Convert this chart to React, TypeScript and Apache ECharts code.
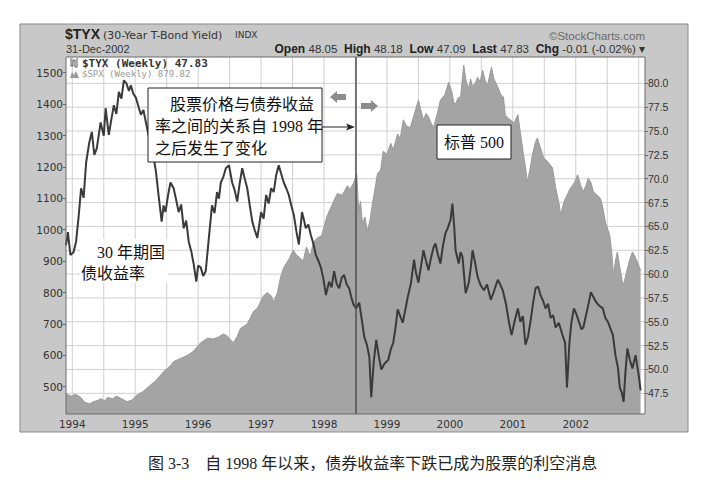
import React, { useEffect, useRef } from "react";
import * as echarts from "echarts";

// ---- axis definitions ----
const X_MIN = 1993.9;
const X_MAX = 2003.1;
const SPX_MIN = 413.1;
const SPX_MAX = 1550;
const TYX_MIN = 45.33;
const TYX_MAX = 82.76;
const YEAR_LABELS = [1994, 1995, 1996, 1997, 1998, 1999, 2000, 2001, 2002];
const GRID_X = [1994, 1994.5, 1995, 1995.5, 1996, 1996.5, 1997, 1997.5, 1998, 1998.5, 1999, 1999.5, 2000, 2000.5, 2001, 2001.5, 2002, 2002.5, 2003];
const SPX_TICKS = [500, 600, 700, 800, 900, 1000, 1100, 1200, 1300, 1400, 1500];
const TYX_TICKS = [47.5, 50, 52.5, 55, 57.5, 60, 62.5, 65, 67.5, 70, 72.5, 75, 77.5, 80];
const SHIFT_DATE = 1998.51;

// ---- S&P 500 weekly (left axis) ----
const SPX_T = [
  1993.9, 1993.98, 1994.05, 1994.13, 1994.2, 1994.28, 1994.33, 1994.4, 1994.45, 1994.52, 1994.56, 1994.64, 1994.7, 1994.76, 1994.82, 1994.87, 1994.95,
  1995.03, 1995.12, 1995.24, 1995.33, 1995.45, 1995.55, 1995.61, 1995.72, 1995.83, 1995.92,
  1996.04, 1996.1, 1996.15, 1996.24, 1996.32, 1996.4, 1996.46, 1996.51, 1996.56, 1996.62, 1996.67, 1996.78, 1996.88, 1996.94,
  1997.04, 1997.1, 1997.16, 1997.2, 1997.26, 1997.31, 1997.36, 1997.44, 1997.51, 1997.56, 1997.62, 1997.67, 1997.72, 1997.78, 1997.83, 1997.9, 1997.96,
  1998.05, 1998.13, 1998.21, 1998.29, 1998.37, 1998.42, 1998.47, 1998.52, 1998.55, 1998.58, 1998.61, 1998.65, 1998.69, 1998.73, 1998.77, 1998.81, 1998.85, 1998.9, 1998.94,
  1999.0, 1999.06, 1999.1, 1999.17, 1999.21, 1999.26, 1999.31, 1999.37, 1999.43, 1999.5, 1999.54, 1999.58, 1999.62, 1999.66, 1999.7, 1999.74, 1999.8, 1999.85, 1999.92, 1999.98,
  2000.03, 2000.06, 2000.09, 2000.13, 2000.17, 2000.22, 2000.26, 2000.3, 2000.33, 2000.36, 2000.41, 2000.44, 2000.48, 2000.52, 2000.56, 2000.6, 2000.66, 2000.7, 2000.76, 2000.81, 2000.85, 2000.88, 2000.92, 2000.96,
  2001.02, 2001.08, 2001.12, 2001.17, 2001.2, 2001.23, 2001.27, 2001.31, 2001.36, 2001.39, 2001.44, 2001.49, 2001.56, 2001.63, 2001.68, 2001.73, 2001.76, 2001.81, 2001.86, 2001.92, 2001.98,
  2002.03, 2002.08, 2002.12, 2002.16, 2002.2, 2002.24, 2002.28, 2002.34, 2002.39, 2002.43, 2002.47, 2002.54, 2002.57, 2002.6, 2002.63, 2002.66, 2002.7, 2002.74, 2002.76, 2002.8, 2002.85, 2002.9, 2002.94, 2002.98, 2003.03,
];
const SPX_V = [
  478, 470, 476, 467, 450, 446, 452, 456, 462, 455, 466, 462, 470, 464, 458, 452, 458,
  474, 484, 505, 520, 548, 565, 580, 590, 600, 612,
  640, 648, 655, 652, 658, 668, 662, 650, 640, 660, 685, 700, 740, 750,
  790, 800, 790, 770, 800, 850, 880, 905, 935, 920, 910, 900, 945, 915, 960, 975, 980,
  1045, 1080, 1115, 1110, 1140, 1130, 1150, 1175, 1060, 1090, 1020, 1040, 995, 1030, 1085, 1130, 1180, 1190, 1250,
  1240, 1275, 1255, 1305, 1290, 1350, 1330, 1325, 1365, 1413, 1380, 1350, 1370, 1360, 1340, 1325, 1370, 1413, 1430, 1470,
  1440, 1407, 1400, 1420, 1423, 1524, 1470, 1451, 1480, 1455, 1470, 1486, 1470, 1508, 1475, 1461, 1518, 1480, 1455, 1429, 1423, 1366, 1356, 1350,
  1340, 1366, 1310, 1238, 1200, 1152, 1190, 1238, 1280, 1292, 1260, 1229, 1215, 1197, 1134, 1088, 1047, 1088, 1110, 1134, 1150,
  1175, 1140, 1121, 1140, 1164, 1150, 1121, 1110, 1101, 1070, 1025, 982, 930, 855, 900, 929, 880, 834, 825, 860, 900, 929, 915, 897, 870,
];

// ---- 30-year T-bond yield x10 weekly (right axis) ----
const TYX_T = [
  1993.9, 1993.93, 1993.97, 1994.02, 1994.06, 1994.1, 1994.14, 1994.18, 1994.22, 1994.27, 1994.31, 1994.35, 1994.39, 1994.45, 1994.5, 1994.53, 1994.58, 1994.62, 1994.66, 1994.7, 1994.74, 1994.78, 1994.82, 1994.86, 1994.9, 1994.93, 1994.97,
  1995.01, 1995.05, 1995.09, 1995.13, 1995.17, 1995.21, 1995.25, 1995.29, 1995.33, 1995.37, 1995.42, 1995.45, 1995.48, 1995.52, 1995.56, 1995.61, 1995.65, 1995.69, 1995.73, 1995.77, 1995.81, 1995.85, 1995.89, 1995.93, 1995.97,
  1996.0, 1996.04, 1996.08, 1996.12, 1996.17, 1996.22, 1996.26, 1996.3, 1996.33, 1996.36, 1996.4, 1996.44, 1996.49, 1996.54, 1996.58, 1996.62, 1996.66, 1996.7, 1996.74, 1996.78, 1996.82, 1996.86, 1996.9, 1996.94,
  1997.0, 1997.04, 1997.08, 1997.12, 1997.16, 1997.2, 1997.24, 1997.28, 1997.32, 1997.36, 1997.4, 1997.44, 1997.48, 1997.52, 1997.56, 1997.6, 1997.65, 1997.68, 1997.71, 1997.75, 1997.79, 1997.83, 1997.87, 1997.91, 1997.95, 1997.99,
  1998.03, 1998.08, 1998.12, 1998.16, 1998.2, 1998.24, 1998.28, 1998.32, 1998.36, 1998.4, 1998.44, 1998.47, 1998.51, 1998.56, 1998.6, 1998.64, 1998.68, 1998.72, 1998.75, 1998.79, 1998.83, 1998.87, 1998.91, 1998.96,
  1999.02, 1999.06, 1999.1, 1999.14, 1999.17, 1999.21, 1999.25, 1999.29, 1999.33, 1999.38, 1999.43, 1999.46, 1999.5, 1999.54, 1999.58, 1999.62, 1999.66, 1999.7, 1999.74, 1999.77, 1999.81, 1999.85, 1999.89, 1999.93, 1999.97,
  2000.01, 2000.04, 2000.07, 2000.09, 2000.14, 2000.17, 2000.2, 2000.25, 2000.3, 2000.33, 2000.36, 2000.4, 2000.44, 2000.49, 2000.54, 2000.59, 2000.65, 2000.7, 2000.76, 2000.8, 2000.84, 2000.89, 2000.94, 2000.98,
  2001.03, 2001.08, 2001.12, 2001.16, 2001.2, 2001.24, 2001.28, 2001.32, 2001.36, 2001.4, 2001.44, 2001.48, 2001.52, 2001.56, 2001.6, 2001.64, 2001.68, 2001.73, 2001.79, 2001.83, 2001.86, 2001.9, 2001.93, 2001.97,
  2002.01, 2002.05, 2002.09, 2002.12, 2002.16, 2002.2, 2002.24, 2002.28, 2002.32, 2002.37, 2002.43, 2002.47, 2002.51, 2002.55, 2002.59, 2002.63, 2002.67, 2002.7, 2002.73, 2002.76, 2002.79, 2002.82, 2002.86, 2002.9, 2002.95, 2003.0, 2003.03,
];
const TYX_V = [
  63.0, 64.4, 62.0, 62.3, 63.4, 66.0, 69.0, 68.0, 71.7, 73.8, 74.9, 72.5, 73.2, 75.9, 74.5, 77.4, 74.6, 76.2, 77.7, 76.8, 79.1, 78.4, 80.3, 80.0, 79.2, 79.8, 78.9,
  78.5, 77.6, 76.7, 77.2, 75.9, 74.6, 73.8, 72.4, 70.7, 68.3, 65.5, 67.2, 66.5, 68.2, 69.6, 69.0, 67.8, 66.5, 67.3, 64.8, 65.6, 63.4, 62.4, 61.0, 59.2,
  60.9, 60.7, 59.8, 60.3, 63.8, 67.2, 66.4, 68.6, 67.9, 69.6, 70.2, 71.1, 71.4, 69.6, 68.8, 67.6, 69.5, 71.1, 70.0, 69.0, 67.2, 65.5, 64.6, 63.8,
  66.5, 65.8, 68.3, 67.4, 69.0, 68.6, 70.4, 71.4, 70.5, 69.6, 69.0, 68.3, 67.2, 66.2, 64.5, 63.1, 66.5, 65.7, 64.8, 65.2, 64.1, 63.2, 62.0, 61.4, 60.7, 59.5,
  57.8, 59.2, 58.6, 60.3, 59.0, 58.5, 59.6, 59.9, 58.9, 58.5, 57.4, 56.8, 56.4, 57.0, 55.2, 53.4, 52.6, 51.3, 47.1, 50.8, 53.1, 51.4, 50.0, 50.6,
  51.0, 52.1, 52.8, 54.6, 56.3, 55.6, 54.9, 56.2, 57.6, 59.0, 61.5, 60.2, 59.1, 60.8, 62.5, 61.4, 60.4, 61.7, 62.8, 63.2, 62.0, 61.1, 63.0, 64.3, 64.9,
  65.7, 67.4, 64.8, 62.5, 61.1, 62.3, 61.8, 58.0, 59.1, 60.6, 62.5, 61.2, 59.7, 58.8, 58.3, 58.9, 57.3, 58.2, 59.4, 58.9, 58.3, 56.9, 54.9, 53.6,
  55.1, 56.4, 55.0, 55.6, 52.6, 53.4, 55.0, 56.9, 58.5, 58.7, 57.8, 57.2, 56.4, 56.9, 55.4, 55.7, 54.4, 54.9, 53.6, 52.8, 48.1, 52.9, 54.9, 56.4,
  55.8, 55.0, 54.2, 54.4, 55.6, 56.8, 58.1, 57.6, 57.1, 56.7, 56.4, 55.4, 55.0, 54.3, 53.6, 51.5, 50.2, 48.1, 47.6, 46.6, 49.8, 52.2, 51.0, 50.1, 51.5, 49.4, 47.8,
];

const SERIF_CJK = "'Liberation Serif', 'Noto Sans CJK SC', serif";
const SANS = "'Liberation Sans', Arial, sans-serif";
const WIDE = "'DejaVu Sans', Verdana, sans-serif";

// plot layout (pixels)
const PLOT = { left: 66, top: 57, width: 579, height: 357 };
const FRAME = { x: 20, y: 24, width: 668, height: 408 };
const FRAME_FILL = "#c8c8c8";
const GRID_COLOR = "#d0d0d0";

export default function App() {
  const ref = useRef<HTMLDivElement>(null);
  useEffect(() => {
    if (!ref.current) return;
    const chart = echarts.init(ref.current, undefined, { renderer: "svg" });
    const spx = SPX_T.map((t, i) => [t, SPX_V[i]]);
    const tyx = TYX_T.map((t, i) => [t, TYX_V[i]]);

    const gridSeriesBase = {
      type: "line", yAxisIndex: 1, z: 1, silent: true, symbol: "none",
      lineStyle: { color: GRID_COLOR, width: 1 }, tooltip: { show: false },
    };
    const hGridSeries = TYX_TICKS.map((v) => ({
      ...gridSeriesBase, data: [[X_MIN, v], [X_MAX, v]],
    }));
    const vGridSeries = GRID_X.map((t) => ({
      ...gridSeriesBase, data: [[t, TYX_MIN], [t, TYX_MAX]],
    }));

    const R = PLOT.left + PLOT.width;
    const B = PLOT.top + PLOT.height;
    const FR = FRAME.x + FRAME.width;
    const FB = FRAME.y + FRAME.height;

    const option: any = {
      animation: false,
      backgroundColor: "#ffffff",
      grid: { ...PLOT, show: false },
      xAxis: {
        type: "value", min: X_MIN, max: X_MAX,
        axisLine: { show: false },
        axisTick: { show: false },
        splitLine: { show: false },
        axisLabel: {
          customValues: YEAR_LABELS, formatter: (v: number) => String(Math.round(v)),
          color: "#333", fontSize: 10.5, fontFamily: WIDE, margin: 4,
        },
      },
      yAxis: [
        {
          type: "value", position: "left", min: SPX_MIN, max: SPX_MAX,
          axisLine: { show: false },
          axisTick: { show: true, length: 3, customValues: SPX_TICKS, lineStyle: { color: "#666" } },
          splitLine: { show: false },
          axisLabel: {
            customValues: SPX_TICKS, formatter: (v: number) => String(v),
            color: "#333", fontSize: 10.5, fontFamily: WIDE, margin: 3,
          },
        },
        {
          type: "value", position: "right", min: TYX_MIN, max: TYX_MAX,
          axisLine: { show: false },
          axisTick: { show: true, length: 3, customValues: TYX_TICKS, lineStyle: { color: "#666" } },
          splitLine: { show: false },
          axisLabel: {
            customValues: TYX_TICKS, formatter: (v: number) => v.toFixed(1),
            color: "#333", fontSize: 10.5, fontFamily: SANS, margin: 3,
          },
        },
      ],
      series: [
        ...hGridSeries,
        ...vGridSeries,
        {
          name: "$SPX", type: "line", yAxisIndex: 0, z: 2, data: spx, symbol: "none",
          lineStyle: { color: "#9a9a9a", width: 1 },
          areaStyle: { color: "#a4a4a4", opacity: 1 },
        },
        {
          name: "$TYX", type: "line", yAxisIndex: 1, z: 3, data: tyx, symbol: "none",
          lineStyle: { color: "#3a3a3a", width: 2 },
          markLine: {
            silent: true, symbol: ["none", "none"], label: { show: false },
            lineStyle: { color: "#505050", width: 1.5, type: "solid" },
            data: [{ xAxis: SHIFT_DATE }],
          },
        },
      ],
      graphic: [
        // gray frame as four bands around the plot (nothing covers the plot itself)
        { type: "rect", z: 0, shape: { x: FRAME.x, y: FRAME.y, width: FRAME.width, height: PLOT.top - FRAME.y }, style: { fill: FRAME_FILL } },
        { type: "rect", z: 0, shape: { x: FRAME.x, y: B, width: FRAME.width, height: FB - B }, style: { fill: FRAME_FILL } },
        { type: "rect", z: 0, shape: { x: FRAME.x, y: PLOT.top, width: PLOT.left - FRAME.x, height: PLOT.height }, style: { fill: FRAME_FILL } },
        { type: "rect", z: 0, shape: { x: R, y: PLOT.top, width: FR - R, height: PLOT.height }, style: { fill: FRAME_FILL } },
        { type: "rect", z: 9, shape: { ...FRAME }, style: { fill: "none", stroke: "#8a8a8a", lineWidth: 1 } },
        { type: "rect", z: 9, shape: { x: PLOT.left, y: PLOT.top, width: PLOT.width, height: PLOT.height }, style: { fill: "none", stroke: "#6a6a6a", lineWidth: 1 } },
        // header
        { type: "text", z: 10, x: 65, y: 34, style: { text: "$TYX", font: `bold 14px ${SANS}`, fill: "#222", verticalAlign: "middle" } },
        { type: "text", z: 10, x: 103, y: 35, style: { text: "(30-Year T-Bond Yield)", font: `11px ${WIDE}`, fill: "#333", verticalAlign: "middle" } },
        { type: "text", z: 10, x: 235, y: 35, style: { text: "INDX", font: `9px ${WIDE}`, fill: "#333", verticalAlign: "middle" } },
        { type: "text", z: 10, x: 66, y: 49, style: { text: "31-Dec-2002", font: `11px ${SANS}`, fill: "#333", verticalAlign: "middle" } },
        { type: "text", z: 10, x: 645, y: 36, style: { text: "©StockCharts.com", font: `11.5px ${SANS}`, fill: "#6a6a6a", align: "right", verticalAlign: "middle" } },
        {
          type: "text", z: 10, x: 645, y: 49,
          style: {
            text: "{b|Open} {n|48.05}  {b|High} {n|48.18}  {b|Low} {n|47.09}  {b|Last} {n|47.83}  {b|Chg} {n|-0.01 (-0.02%) ▾}",
            align: "right", verticalAlign: "middle",
            rich: {
              b: { font: `bold 12px ${SANS}`, fill: "#222" },
              n: { font: `11.5px ${SANS}`, fill: "#333" },
            },
          },
        },
        // legend inside plot
        { type: "polyline", z: 10, shape: { points: [[71, 58], [71, 66], [73, 66], [73, 60], [75, 60], [75, 67], [77, 67], [77, 58]] }, style: { stroke: "#555", fill: "none", lineWidth: 1 } },
        { type: "text", z: 10, x: 82, y: 63, style: { text: "$TYX (Weekly) 47.83", font: `bold 11px 'DejaVu Sans Mono', monospace`, fill: "#333", verticalAlign: "middle" } },
        { type: "polygon", z: 10, shape: { points: [[70, 78], [72, 72], [74, 75], [76, 71], [79, 78]] }, style: { fill: "#999" } },
        { type: "text", z: 10, x: 82, y: 74, style: { text: "$SPX (Weekly) 879.82", font: `9px 'DejaVu Sans Mono', monospace`, fill: "#9a9a9a", verticalAlign: "middle" } },
        // annotation box 1
        { type: "rect", z: 10, shape: { x: 148, y: 88, width: 174, height: 74 }, style: { fill: "#fff", stroke: "#222", lineWidth: 1 } },
        { type: "text", z: 11, x: 170, y: 104, style: { text: "股票价格与债券收益", font: `16px ${SERIF_CJK}`, fill: "#111", verticalAlign: "middle" } },
        { type: "text", z: 11, x: 155, y: 126, style: { text: "率之间的关系自 1998 年", font: `16px ${SERIF_CJK}`, fill: "#111", verticalAlign: "middle" } },
        { type: "text", z: 11, x: 155, y: 148, style: { text: "之后发生了变化", font: `16px ${SERIF_CJK}`, fill: "#111", verticalAlign: "middle" } },
        { type: "line", z: 10, shape: { x1: 322, y1: 127, x2: 352, y2: 127 }, style: { stroke: "#222", lineWidth: 1 } },
        { type: "polygon", z: 10, shape: { points: [[355, 127], [346, 123.5], [348, 127], [346, 130.5]] }, style: { fill: "#222" } },
        // gray block arrows
        { type: "polygon", z: 10, shape: { points: [[330, 97], [337, 91], [337, 94], [346, 94], [346, 100], [337, 100], [337, 103]] }, style: { fill: "#8c8c8c" } },
        { type: "polygon", z: 10, shape: { points: [[378, 106], [371, 100], [371, 103], [361, 103], [361, 109], [371, 109], [371, 112]] }, style: { fill: "#8c8c8c" } },
        // annotation box 2
        { type: "rect", z: 10, shape: { x: 437, y: 125, width: 74, height: 34 }, style: { fill: "#fff", stroke: "#222", lineWidth: 1 } },
        { type: "text", z: 11, x: 474, y: 142, style: { text: "标普 500", font: `16px ${SERIF_CJK}`, fill: "#111", align: "center", verticalAlign: "middle" } },
        // label for yield
        { type: "rect", z: 10, shape: { x: 80, y: 239, width: 88, height: 44 }, style: { fill: "#ffffff" } },
        { type: "text", z: 11, x: 97, y: 252, style: { text: "30 年期国", font: `16px ${SERIF_CJK}`, fill: "#111", verticalAlign: "middle" } },
        { type: "text", z: 11, x: 81, y: 273, style: { text: "债收益率", font: `16px ${SERIF_CJK}`, fill: "#111", verticalAlign: "middle" } },
        // caption
        { type: "text", z: 10, x: 148, y: 463, style: { text: "图 3-3　自 1998 年以来，债券收益率下跌已成为股票的利空消息", font: `16px ${SERIF_CJK}`, fill: "#222", verticalAlign: "middle" } },
      ],
    };
    chart.setOption(option);
    return () => chart.dispose();
  }, []);
  return <div ref={ref} style={{ position: "fixed", left: 0, top: 0, width: 714, height: 500, background: "#fff" }} />;
}
